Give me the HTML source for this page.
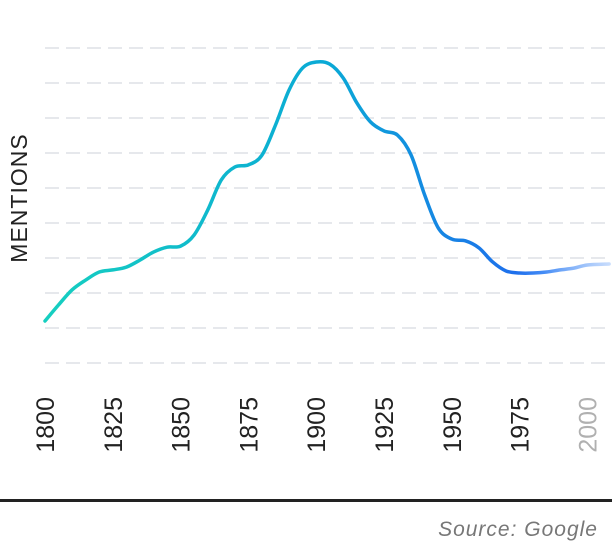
<!DOCTYPE html>
<html><head><meta charset="utf-8"><style>
html,body{margin:0;padding:0;background:#fff;}
svg{display:block;font-family:"Liberation Sans",Arial,sans-serif;}
</style></head><body>
<svg id="chart" width="612" height="544" viewBox="0 0 612 544">
<defs>
<linearGradient id="lg" gradientUnits="userSpaceOnUse" x1="45" y1="0" x2="612" y2="0">
<stop offset="0" stop-color="#16cfc0"/>
<stop offset="0.5" stop-color="#0aa9d6"/>
<stop offset="0.83" stop-color="#1e6fec"/>
<stop offset="0.88" stop-color="#3b86f5" stop-opacity="0.95"/>
<stop offset="1" stop-color="#a8c8fb" stop-opacity="0.6"/>
</linearGradient>
</defs>
<g id="grid"></g>
<g id="xticks"></g>
<path id="line" fill="none" stroke="url(#lg)" stroke-width="3.5" stroke-linecap="round"/>
<text transform="translate(27,198) rotate(-90)" text-anchor="middle" font-size="23" fill="#222" letter-spacing="1">MENTIONS</text>
<rect x="0" y="499" width="612" height="3" fill="#222"/>
<text x="598" y="536" text-anchor="end" font-size="21" font-style="italic" fill="#777" letter-spacing="1">Source: Google</text>
</svg>
<script>
const years=[1800,1805,1810,1815,1820,1825,1830,1835,1840,1845,1850,1855,1860,1865,1870,1875,1880,1885,1890,1895,1900,1905,1910,1915,1920,1925,1930,1935,1940,1945,1950,1955,1960,1965,1970,1975,1980,1985,1990,1995,2000,2008];
const mentions=[1.2,1.66,2.09,2.37,2.6,2.66,2.74,2.94,3.17,3.31,3.34,3.66,4.37,5.23,5.6,5.66,5.94,6.8,7.8,8.43,8.6,8.54,8.14,7.43,6.89,6.63,6.51,5.94,4.8,3.86,3.54,3.49,3.29,2.89,2.63,2.57,2.57,2.6,2.66,2.71,2.8,2.83];
const gridValues=[0,1,2,3,4,5,6,7,8,9];
const tickYears=[1800,1825,1850,1875,1900,1925,1950,1975,2000];
const tickLabels=["1800","1825","1850","1875","1900","1925","1950","1975","2000"];
const NS="http://www.w3.org/2000/svg";
const x=y=>45+(y-1800)*(67.8/25);
const yv=v=>363-35*v;
const grid=document.getElementById('grid');
gridValues.forEach(v=>{const l=document.createElementNS(NS,'line');


l.setAttribute('x1',45);l.setAttribute('x2',612);l.setAttribute('y1',yv(v));l.setAttribute('y2',yv(v));
l.setAttribute('stroke','#e6e8ec');l.setAttribute('stroke-width','2');l.setAttribute('stroke-dasharray','14 7');grid.appendChild(l);});
const xt=document.getElementById('xticks');
tickYears.forEach((t,i)=>{const tx=document.createElementNS(NS,'text');


tx.setAttribute('transform','translate('+(x(t)+9)+',397) rotate(-90)');
tx.setAttribute('text-anchor','end');tx.setAttribute('font-size','25');
tx.setAttribute('fill',t===2000?'#b0b0b0':'#222');tx.textContent=tickLabels[i];xt.appendChild(tx);});
const pts=years.map((yr,i)=>[x(yr),yv(mentions[i])]);
let d='M'+pts[0][0]+','+pts[0][1];
for(let i=0;i<pts.length-1;i++){const p0=pts[Math.max(0,i-1)],p1=pts[i],p2=pts[i+1],p3=pts[Math.min(pts.length-1,i+2)];
const c1=[p1[0]+(p2[0]-p0[0])/6,p1[1]+(p2[1]-p0[1])/6],c2=[p2[0]-(p3[0]-p1[0])/6,p2[1]-(p3[1]-p1[1])/6];
d+=' C'+c1[0]+','+c1[1]+' '+c2[0]+','+c2[1]+' '+p2[0]+','+p2[1];}
document.getElementById('line').setAttribute('d',d);
</script>
</body></html>
